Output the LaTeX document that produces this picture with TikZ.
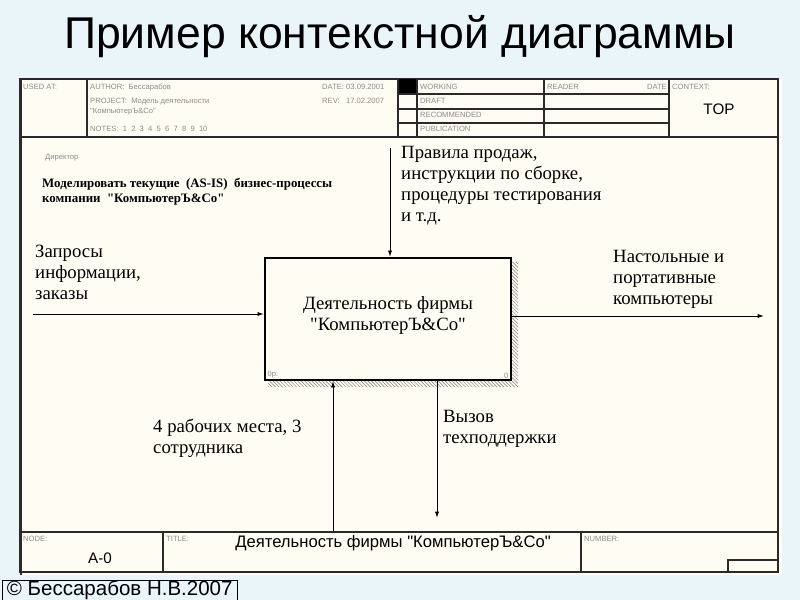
\documentclass[tikz,border=0pt]{standalone}
\usepackage{fontspec}
\setmainfont{Liberation Serif}[Ligatures=TeXOff]
\setsansfont{Liberation Sans}[Ligatures=TeXOff]
\usetikzlibrary{positioning}
\usetikzlibrary{patterns}
\usetikzlibrary{arrows.meta}
\definecolor{bgblue}{HTML}{EAF5FA}
\definecolor{paper}{HTML}{FFFCF3}
\definecolor{frameline}{HTML}{2A2A2A}
\definecolor{tinygray}{HTML}{8C8C8C}
\tikzset{
  tinytext/.style={font=\sffamily\fontsize{6.5}{8}\selectfont, text=tinygray, inner sep=0pt, anchor=north west},
  lbl/.style={font=\fontsize{16}{18}\selectfont, align=left, inner sep=0pt, anchor=north west},
  flow/.style={line width=0.8pt, -{Latex[length=5.5pt,width=3.6pt]}},
  cell/.style={frameline, line width=1pt},
}

\begin{document}
\begin{tikzpicture}[x=0.3mm, y=-0.3mm]
	\fill[bgblue] (0,0) rectangle (800,600);
	\useasboundingbox (0,0) rectangle (800,600);
	
	\node[font=\sffamily\fontsize{38}{42}\selectfont] (title) at (400,37) {Пример контекстной диаграммы};
	
	% sheet and frame
	\fill[paper] (20,79) rectangle (782,575);
	\draw[frameline, line width=1.4pt] (20,79) rectangle (778,572);
	\draw[frameline, line width=2.2pt] (21,79) -- (21,575);
	
	% header
	\begin{scope}
		\clip (87,79) rectangle (398,137);
		\node[tinytext] (author) at (90,84) {AUTHOR:\ \ Бессарабов};
		\node[tinytext] (project) at (90,98) {PROJECT:\ \ Модель деятельности};
		\node[tinytext] (project2) at (90,108) {"КомпьютерЪ\&Co"};
		\node[tinytext] (notes) at (90,126) {NOTES:\ \ 1\ \ 2\ \ 3\ \ 4\ \ 5\ \ 6\ \ 7\ \ 8\ \ 9\ \ 10};
		\node[tinytext] (date) at (322,84) {DATE: 03.09.2001};
		\node[tinytext] (rev) at (322,98) {REV:\ \ \ 17.02.2007};
	\end{scope}
	\node[tinytext] (usedat) at (23,84) {USED AT:};
	\fill[black] (398,79) rectangle (417,94);
	\draw[cell] (20,137) -- (778,137);
	\draw[cell] (87,79) -- (87,137);
	\draw[cell] (398,79) -- (398,137);
	\draw[cell] (417,79) -- (417,137);
	\draw[cell] (544,79) -- (544,137);
	\draw[cell] (669,79) -- (669,137);
	\draw[cell] (398,94) -- (669,94);
	\draw[cell] (398,109) -- (669,109);
	\draw[cell] (398,123) -- (669,123);
	\node[tinytext] (working) at (420,84) {WORKING};
	\node[tinytext] (draft) at (420,98) {DRAFT};
	\node[tinytext] (recommended) at (420,112) {RECOMMENDED};
	\node[tinytext] (publication) at (420,126) {PUBLICATION};
	\node[tinytext] (reader) at (547,84) {READER};
	\node[tinytext, anchor=north east] (rdate) at (667,84) {DATE};
	\node[tinytext] (context) at (672,84) {CONTEXT:};
	\node[font=\sffamily\fontsize{13}{15}\selectfont] (top) at (719,109) {TOP};
	
	% footer
	\draw[cell] (20,532) -- (778,532);
	\draw[cell] (163,532) -- (163,572);
	\draw[cell] (581,532) -- (581,572);
	\draw[cell] (728,560) rectangle (778,572);
	\node[tinytext] (nodelbl) at (23,536) {NODE:};
	\node[tinytext] (titlelbl) at (166,536) {TITLE:};
	\node[tinytext] (numberlbl) at (584,536) {NUMBER:};
	\node[font=\sffamily\fontsize{13}{15}\selectfont] (nodeno) at (100,558) {A-0};
	\node[font=\sffamily\fontsize{14.2}{16}\selectfont] (sheettitle) at (393,543) {Деятельность фирмы "КомпьютерЪ\&Co"};
	
	% purpose and viewpoint
	\node[tinytext] (viewpoint) at (45,154) {Директор};
	\node[font=\bfseries\fontsize{11}{13}\selectfont, align=left, inner sep=0pt, anchor=north west] (purpose) at (42,178) {Моделировать\ текущие\ \ (AS-IS)\ \ бизнес-процессы\\компании\ \ "КомпьютерЪ\&Co"};
	
	% activity box with shadow
	\fill[pattern=north west lines, pattern color=gray] (511,262) -- (518,262) -- (518,387) -- (268,387) -- (268,380) -- (511,380) -- cycle;
	\node[draw, fill=paper, line width=1.8pt, minimum width=73.8mm, minimum height=36.6mm, font=\fontsize{16}{18}\selectfont, align=center, text depth=3.5mm] (act) at (388,319) {Деятельность фирмы\\"КомпьютерЪ\&Co"};
	\node[tinytext, anchor=south west] (cost) at ([xshift=3pt,yshift=2pt]act.south west) {0р.};
	\node[tinytext, anchor=south east] (boxno) at ([xshift=-3pt,yshift=2pt]act.south east) {0};
	
	% arrows
	\coordinate (inS) at (33,314);
	\coordinate (ctlS) at (390,148);
	\coordinate (outE) at (764,316);
	\coordinate (mechS) at (333,531);
	\coordinate (callE) at (437,518);
	\draw[flow] (inS) -- (inS -| act.west);
	\draw[flow] (ctlS) -- (ctlS |- act.north);
	\draw[flow] (outE -| act.east) -- (outE);
	\draw[flow] (mechS) -- (mechS |- act.south);
	\draw[flow] (callE |- act.south) -- (callE);
	
	% arrow labels
	\node[lbl] (inLbl) at (35,245) {Запросы\\информации,\\заказы};
	\node[lbl] (ctlLbl) at (401,146) {Правила продаж,\\инструкции по сборке,\\процедуры тестирования\\и т.д.};
	\node[lbl] (outLbl) at (613,250) {Настольные и\\портативные\\компьютеры};
	\node[lbl] (mechLbl) at (153,419) {4 рабочих места, 3\\сотрудника};
	\node[lbl] (callLbl) at (443,410) {Вызов\\техподдержки};
	
	\node[draw, fill=bgblue, font=\sffamily\fontsize{17.5}{18}\selectfont, inner sep=0pt, minimum width=70.5mm, minimum height=5.4mm, anchor=south west] (copyright) at (2,600) {© Бессарабов Н.В.2007};
\end{tikzpicture}
\end{document}
